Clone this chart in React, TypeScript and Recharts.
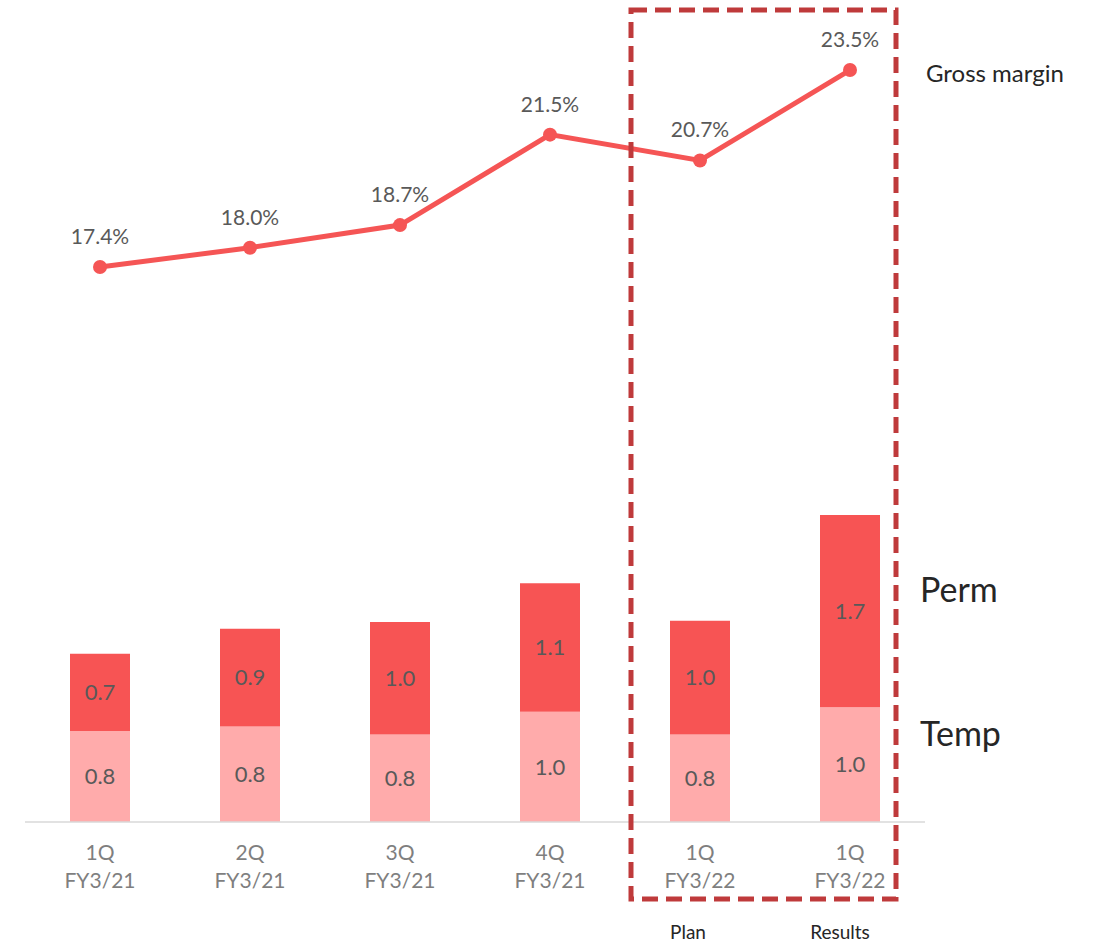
import React from "react";
import {
  ComposedChart,
  Bar,
  Line,
  XAxis,
  YAxis,
  LabelList,
} from "recharts";

/* =======================
   Data
======================= */
const quarters = ["1Q", "2Q", "3Q", "4Q", "1Q", "1Q"];
const fiscalYears = ["FY3/21", "FY3/21", "FY3/21", "FY3/21", "FY3/22", "FY3/22"];
const tempValues = [0.8, 0.84, 0.77, 0.97, 0.77, 1.01];
const permValues = [0.68, 0.86, 0.99, 1.13, 1.0, 1.69];
const grossMargin = [17.4, 18.0, 18.7, 21.5, 20.7, 23.5];

const chartData = quarters.map((q, i) => ({
  key: `${q}-${fiscalYears[i]}-${i}`,
  temp: tempValues[i],
  perm: permValues[i],
  margin: grossMargin[i],
}));

/* =======================
   Styles
======================= */
const FONT = "Lato, 'Open Sans', sans-serif";
const PERM = "#f75454";
const TEMP = "#ffabab";
const LINE = "#f55555";
const LABEL_GRAY = "#595959";
const TICK_GRAY = "#7f7f7f";

const CategoryTick = (props: any) => {
  const { x, y, index } = props;
  return (
    <text x={x} y={y} textAnchor="middle" fill={TICK_GRAY} fontSize={21} fontFamily={FONT}>
      <tspan x={x} dy={38}>{quarters[index]}</tspan>
      <tspan x={x} dy={28}>{fiscalYears[index]}</tspan>
    </text>
  );
};

/* =======================
   Component
======================= */
export default function App() {
  return (
    <div
      style={{
        position: "absolute",
        left: 0,
        top: 0,
        width: 1099,
        height: 943,
        background: "#fff",
        fontFamily: FONT,
      }}
    >
      <ComposedChart
        width={1099}
        height={943}
        data={chartData}
        margin={{ top: 40, right: 174, left: 25, bottom: 61 }}
        barCategoryGap={0}
      >
        <XAxis
          dataKey="key"
          height={60}
          tickLine={false}
          tickSize={0}
          tickMargin={0}
          axisLine={{ stroke: "#d9d9d9", strokeWidth: 1.5 }}
          tick={<CategoryTick />}
          interval={0}
        />
        <YAxis yAxisId="bars" hide domain={[0, 6.88]} />
        <YAxis yAxisId="line" hide domain={[0.22, 24.43]} />

        <Bar yAxisId="bars" dataKey="temp" stackId="a" fill={TEMP} barSize={60} isAnimationActive={false}>
          <LabelList
            dataKey="temp"
            position="center"
            fill={LABEL_GRAY}
            fontSize={22}
            fontFamily={FONT}
            formatter={(v: any) => Number(v).toFixed(1)}
          />
        </Bar>
        <Bar yAxisId="bars" dataKey="perm" stackId="a" fill={PERM} barSize={60} isAnimationActive={false}>
          <LabelList
            dataKey="perm"
            position="center"
            fill={LABEL_GRAY}
            fontSize={22}
            fontFamily={FONT}
            formatter={(v: any) => Number(v).toFixed(1)}
          />
        </Bar>

        <Line
          yAxisId="line"
          dataKey="margin"
          stroke={LINE}
          strokeWidth={5}
          dot={{ r: 7, fill: LINE, stroke: LINE, strokeWidth: 0 }}
          activeDot={false}
          isAnimationActive={false}
        >
          <LabelList
            dataKey="margin"
            position="top"
            offset={23}
            fill={LABEL_GRAY}
            fontSize={21}
            fontFamily={FONT}
            formatter={(v: any) => `${Number(v).toFixed(1)}%`}
          />
        </Line>
      </ComposedChart>

      {/* annotations */}
      <svg
        width={1099}
        height={943}
        style={{ position: "absolute", left: 0, top: 0, pointerEvents: "none" }}
        fontFamily={FONT}
      >
        <rect
          x={631}
          y={10}
          width={265}
          height={889}
          fill="none"
          stroke="#bf3a3b"
          strokeWidth={5}
          strokeDasharray="16 8"
        />
        <text x={926} y={82} fontSize={24} fill="#262626">Gross margin</text>
        <text x={920} y={602} fontSize={34} fill="#262626">Perm</text>
        <text x={920} y={746} fontSize={34} fill="#262626">Temp</text>
        <text x={688} y={939} fontSize={19} fill="#262626" textAnchor="middle">Plan</text>
        <text x={840} y={939} fontSize={19} fill="#262626" textAnchor="middle">Results</text>
      </svg>
    </div>
  );
}
